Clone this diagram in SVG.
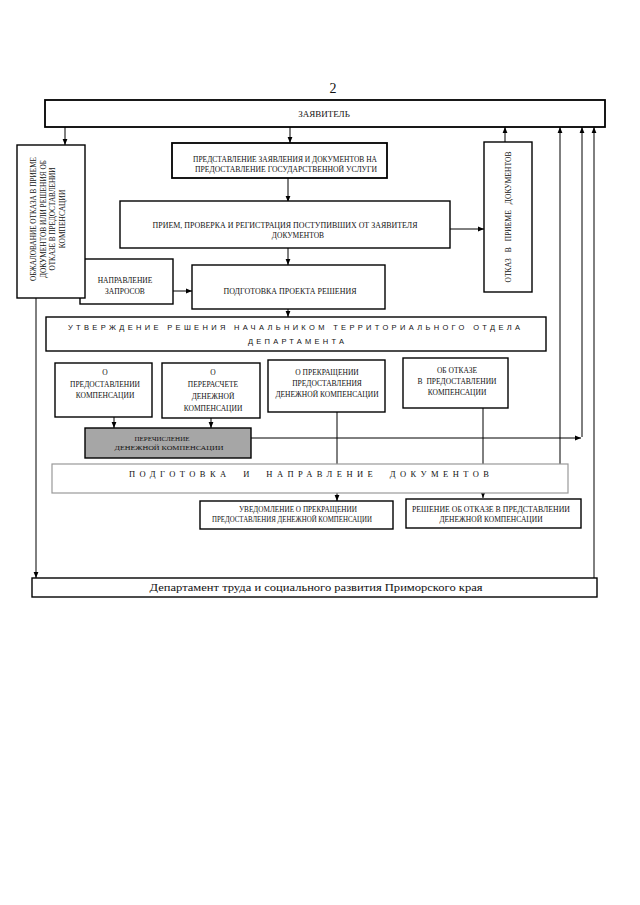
<svg xmlns="http://www.w3.org/2000/svg" width="640" height="905" viewBox="0 0 640 905">
<style>
.box{fill:#fff;stroke:#000;stroke-width:1.4}
.gbox{fill:#fff;stroke:#999;stroke-width:1.2}
.grey{fill:#a6a6a6;stroke:#000;stroke-width:1.4}
.t{font-family:"Liberation Serif",serif;font-size:7.5px;text-anchor:middle;fill:#111}
.sp{font-family:"Liberation Sans",sans-serif;font-size:7.5px;text-anchor:middle;fill:#111}
.sps{font-family:"Liberation Serif",serif;font-size:8.5px;text-anchor:middle;fill:#111}
.c{stroke:#000;stroke-width:1;fill:none}
.a{marker-end:url(#ah)}
</style>
<defs>
<marker id="ah" viewBox="0 0 10 10" refX="10" refY="5" markerWidth="6" markerHeight="6" markerUnits="userSpaceOnUse" orient="auto">
<path d="M0,1 L10,5 L0,9 z" fill="#000"/>
</marker>
</defs>
<rect width="640" height="905" fill="#fff"/>
<text x="333" y="93" style="font-family:'Liberation Serif',serif;font-size:14px;text-anchor:middle;fill:#111">2</text>

<g id="connectors">
<path class="c a" d="M65,127 V145"/>
<path class="c a" d="M290,127 V143"/>
<path class="c a" d="M288,178 V202"/>
<path class="c a" d="M450,229 H484"/>
<path class="c a" d="M288,248 V265"/>
<path class="c a" d="M173,291 H192"/>
<path class="c a" d="M288,309 V317"/>
<path class="c a" d="M505,142 V127"/>
<path class="c a" d="M560,464 V127"/>
<path class="c" d="M582,437 V140"/>
<path class="c a" d="M582,140 V127"/>
<path class="c a" d="M251,438 H581"/>
<path class="c a" d="M594,578 V127"/>
<path class="c a" d="M36,298 V578"/>
<path class="c a" d="M114,417 V428"/>
<path class="c a" d="M211,418 V428"/>
<path class="c a" d="M337,412 V501"/>
<path class="c a" d="M483,408 V498"/>
</g>

<g id="zayavitel">
<rect class="box" x="45" y="100" width="560" height="27" style="stroke-width:1.8"/>
<text class="t" x="324" y="117" style="font-size:9px">ЗАЯВИТЕЛЬ</text>
</g>

<g id="napravlenie">
<rect class="box" x="80" y="259" width="93" height="45"/>
<text class="t" x="125" y="283">НАПРАВЛЕНИЕ</text>
<text class="t" x="125" y="294">ЗАПРОСОВ</text>
</g>

<g id="obzhalovanie">
<rect class="box" x="17" y="145" width="68" height="153"/>
<text class="t" transform="translate(36,219) rotate(-90)" textLength="124" lengthAdjust="spacingAndGlyphs">ОБЖАЛОВАНИЕ ОТКАЗА В ПРИЕМЕ</text>
<text class="t" transform="translate(46,219) rotate(-90)" textLength="118" lengthAdjust="spacingAndGlyphs">ДОКУМЕНТОВ ИЛИ РЕШЕНИЯ ОБ</text>
<text class="t" transform="translate(55,219) rotate(-90)" textLength="103" lengthAdjust="spacingAndGlyphs">ОТКАЗЕ В ПРЕДОСТАВЛЕНИИ</text>
<text class="t" transform="translate(65,219) rotate(-90)">КОМПЕНСАЦИИ</text>
</g>

<g id="predstavlenie">
<rect class="box" x="172" y="143" width="215" height="35" style="stroke-width:1.8"/>
<text class="t" x="285" y="162" textLength="184" lengthAdjust="spacingAndGlyphs">ПРЕДСТАВЛЕНИЕ ЗАЯВЛЕНИЯ И ДОКУМЕНТОВ НА</text>
<text class="t" x="286" y="172" textLength="182" lengthAdjust="spacingAndGlyphs">ПРЕДОСТАВЛЕНИЕ ГОСУДАРСТВЕННОЙ УСЛУГИ</text>
</g>

<g id="priem">
<rect class="box" x="120" y="201" width="330" height="47"/>
<text class="t" x="285" y="228" textLength="265" lengthAdjust="spacingAndGlyphs">ПРИЕМ, ПРОВЕРКА И РЕГИСТРАЦИЯ ПОСТУПИВШИХ ОТ  ЗАЯВИТЕЛЯ</text>
<text class="t" x="298" y="238">ДОКУМЕНТОВ</text>
</g>

<g id="otkaz-priem">
<rect class="box" x="484" y="142" width="48" height="150"/>
<text class="t" transform="translate(511,217) rotate(-90)" style="word-spacing:4px" textLength="131" lengthAdjust="spacing">ОТКАЗ В ПРИЕМЕ ДОКУМЕНТОВ</text>
</g>

<g id="podgotovka-proekta">
<rect class="box" x="192" y="265" width="193" height="44"/>
<text class="t" x="290" y="294" textLength="133" lengthAdjust="spacingAndGlyphs">ПОДГОТОВКА ПРОЕКТА  РЕШЕНИЯ</text>
</g>

<g id="utverzhdenie">
<rect class="box" x="46" y="317" width="500" height="34"/>
<text class="sp" x="294" y="330" textLength="452" lengthAdjust="spacing">УТВЕРЖДЕНИЕ РЕШЕНИЯ НАЧАЛЬНИКОМ ТЕРРИТОРИАЛЬНОГО ОТДЕЛА</text>
<text class="sp" x="296" y="344" textLength="96" lengthAdjust="spacing">ДЕПАРТАМЕНТА</text>
</g>

<g id="o-predostavlenii">
<rect class="box" x="55" y="363" width="97" height="54"/>
<text class="t" x="105" y="375">О</text>
<text class="t" x="105" y="387">ПРЕДОСТАВЛЕНИИ</text>
<text class="t" x="105" y="398">КОМПЕНСАЦИИ</text>
</g>

<g id="o-pererachete">
<rect class="box" x="162" y="363" width="98" height="55"/>
<text class="t" x="213" y="375">О</text>
<text class="t" x="213" y="387">ПЕРЕРАСЧЕТЕ</text>
<text class="t" x="213" y="399">ДЕНЕЖНОЙ</text>
<text class="t" x="213" y="411">КОМПЕНСАЦИИ</text>
</g>

<g id="o-prekrashchenii">
<rect class="box" x="268" y="360" width="117" height="52"/>
<text class="t" x="327" y="375">О ПРЕКРАЩЕНИИ</text>
<text class="t" x="327" y="386">ПРЕДОСТАВЛЕНИЯ</text>
<text class="t" x="327" y="397">ДЕНЕЖНОЙ КОМПЕНСАЦИИ</text>
</g>

<g id="ob-otkaze">
<rect class="box" x="403" y="358" width="105" height="50"/>
<text class="t" x="457" y="373">ОБ ОТКАЗЕ</text>
<text class="t" x="457" y="384" style="word-spacing:2px">В ПРЕДОСТАВЛЕНИИ</text>
<text class="t" x="457" y="395">КОМПЕНСАЦИИ</text>
</g>

<g id="perechislenie">
<rect class="grey" x="85" y="428" width="166" height="30"/>
<text class="t" x="162" y="441" style="font-size:7px">ПЕРЕЧИСЛЕНИЕ</text>
<text class="t" x="169" y="450" style="font-size:7px" textLength="109" lengthAdjust="spacingAndGlyphs">ДЕНЕЖНОЙ КОМПЕНСАЦИИ</text>
</g>

<g id="podgotovka-napravlenie">
<rect class="gbox" x="52" y="464" width="516" height="29"/>
<text class="sps" x="309" y="477" style="word-spacing:6px" textLength="360" lengthAdjust="spacing">ПОДГОТОВКА И НАПРАВЛЕНИЕ ДОКУМЕНТОВ</text>
</g>

<g id="uvedomlenie">
<rect class="box" x="200" y="501" width="193" height="28"/>
<text class="t" x="298" y="512" textLength="118" lengthAdjust="spacingAndGlyphs">УВЕДОМЛЕНИЕ  О ПРЕКРАЩЕНИИ</text>
<text class="t" x="292" y="522" textLength="160" lengthAdjust="spacingAndGlyphs">ПРЕДОСТАВЛЕНИЯ ДЕНЕЖНОЙ КОМПЕНСАЦИИ</text>
</g>

<g id="reshenie-otkaz">
<rect class="box" x="406" y="499" width="175" height="29"/>
<text class="t" x="491" y="512" textLength="158" lengthAdjust="spacingAndGlyphs">РЕШЕНИЕ ОБ ОТКАЗЕ В ПРЕДСТАВЛЕНИИ</text>
<text class="t" x="491" y="522">ДЕНЕЖНОЙ КОМПЕНСАЦИИ</text>
</g>

<g id="departament">
<rect class="box" x="32" y="578" width="565" height="19"/>
<text x="316" y="591" style="font-family:'Liberation Serif',serif;font-size:11px;text-anchor:middle;fill:#111" textLength="333" lengthAdjust="spacingAndGlyphs">Департамент труда и социального развития Приморского края</text>
</g>
</svg>
